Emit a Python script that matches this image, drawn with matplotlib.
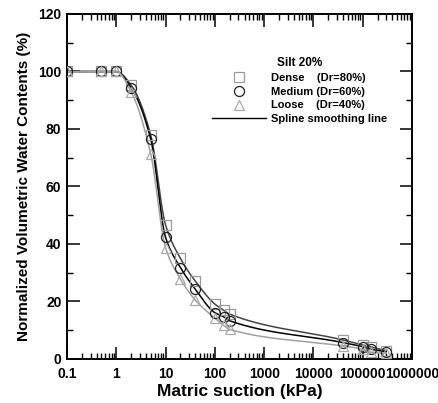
import numpy as np
import matplotlib
matplotlib.use("Agg")
import matplotlib.pyplot as plt
from matplotlib.lines import Line2D
from matplotlib.ticker import FixedLocator, FixedFormatter

plt.rcParams["font.family"] = ["Liberation Sans", "DejaVu Sans"]
plt.rcParams["font.weight"] = "bold"

suction = [0.1, 0.5, 1, 2, 5, 10, 20, 40, 100, 150, 200, 40000, 100000, 150000, 300000]
dense = [100, 100, 100, 95.3, 77.9, 46.6, 35.0, 27.1, 19.1, 17.0, 15.6, 6.6, 4.9, 4.1, 2.9]
medium = [100, 100, 100, 94.4, 76.5, 42.3, 31.8, 24.3, 16.1, 14.7, 13.3, 5.7, 4.3, 3.4, 2.5]
loose = [100, 100, 100, 93.0, 71.3, 38.7, 27.8, 20.5, 14.2, 11.7, 10.3, 4.5, 3.4, 2.3, 2.0]

x_ticks = [0.1, 1, 10, 100, 1000, 10000, 100000, 1000000]
x_labels = ["0.1", "1", "10", "100", "1000", "10000", "100000", "1000000"]


def pchip(xs, ys, xq):
    # monotone cubic (Fritsch-Carlson) used as the smoothing line
    xs = np.asarray(xs, float)
    ys = np.asarray(ys, float)
    h = np.diff(xs)
    d = np.diff(ys) / h
    m = np.zeros_like(ys)
    for k in range(1, len(xs) - 1):
        if d[k - 1] * d[k] > 0:
            w1 = 2 * h[k] + h[k - 1]
            w2 = h[k] + 2 * h[k - 1]
            m[k] = (w1 + w2) / (w1 / d[k - 1] + w2 / d[k])
    m[0] = d[0]
    m[-1] = d[-1]
    idx = np.clip(np.searchsorted(xs, xq) - 1, 0, len(xs) - 2)
    t = (xq - xs[idx]) / h[idx]
    h00 = 2 * t**3 - 3 * t**2 + 1
    h10 = t**3 - 2 * t**2 + t
    h01 = -2 * t**3 + 3 * t**2
    h11 = t**3 - t**2
    return h00 * ys[idx] + h10 * h[idx] * m[idx] + h01 * ys[idx + 1] + h11 * h[idx] * m[idx + 1]


fig = plt.figure(figsize=(4.39, 4.03), dpi=100)
ax = fig.add_axes([0.1526, 0.1092, 0.7859, 0.8561])

lx = np.log10(suction)
xq = np.linspace(lx[0], lx[-1], 600)

series = [
    (dense, "s", "#9a9a9a", "#444444"),
    (medium, "o", "#222222", "#000000"),
    (loose, "^", "#aaaaaa", "#a0a0a0"),
]
for vals, mk, mcol, lcol in series:
    ax.plot(10**xq, pchip(lx, vals, xq), color=lcol, linewidth=1.1, zorder=2)
    ax.plot(suction, vals, linestyle="none", marker=mk, markersize=7.2,
            markerfacecolor="none", markeredgecolor=mcol, markeredgewidth=0.9, zorder=3)

ax.set_xscale("log")
ax.set_xlim(0.1, 1000000)
ax.set_ylim(0, 120)
ax.xaxis.set_major_locator(FixedLocator(x_ticks))
ax.xaxis.set_major_formatter(FixedFormatter(x_labels))
ax.set_yticks([0, 20, 40, 60, 80, 100, 120])
ax.set_yticks([10, 30, 50, 70, 90, 110], minor=True)

ax.tick_params(axis="both", which="major", direction="in", top=True, right=True,
               labelsize=10, width=1.1, length=9)
ax.tick_params(axis="x", which="major", pad=6)
ax.tick_params(axis="y", which="major", pad=4)
ax.tick_params(axis="both", which="minor", direction="in", top=True, right=True,
               length=4.5, width=1.0)
for lab in ax.get_xticklabels() + ax.get_yticklabels():
    lab.set_fontweight("bold")
for sp in ax.spines.values():
    sp.set_linewidth(1.4)

ax.set_xlabel("Matric suction (kPa)", fontsize=12.5, fontweight="bold", labelpad=2)
ax.set_ylabel("Normalized Volumetric Water Contents (%)", fontsize=11,
              fontweight="bold", labelpad=5)

handles = [
    Line2D([], [], linestyle="none", marker="s", markersize=7.2, markerfacecolor="none",
           markeredgecolor="#9a9a9a", markeredgewidth=0.9),
    Line2D([], [], linestyle="none", marker="o", markersize=7.2, markerfacecolor="none",
           markeredgecolor="#222222", markeredgewidth=0.9),
    Line2D([], [], linestyle="none", marker="^", markersize=7.2, markerfacecolor="none",
           markeredgecolor="#aaaaaa", markeredgewidth=0.9),
    Line2D([], [], color="#000000", linewidth=1.0),
]
labels = ["Dense    (Dr=80%)", "Medium (Dr=60%)", "Loose    (Dr=40%)", "Spline smoothing line"]
leg = ax.legend(handles, labels, title="Silt 20%", loc="upper left",
                bbox_to_anchor=(0.405, 0.89), frameon=False, fontsize=8,
                title_fontsize=8.5, handlelength=4.8, handletextpad=0.5,
                labelspacing=0.33, borderpad=0.0)
leg.get_title().set_fontweight("bold")
for t in leg.get_texts():
    t.set_fontweight("bold")

fig.savefig("out.png", dpi=100)
plt.close(fig)
